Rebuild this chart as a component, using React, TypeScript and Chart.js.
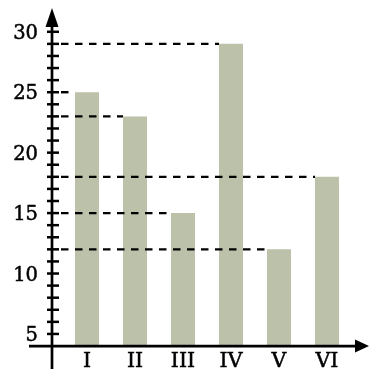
import { useEffect, useRef } from 'react';
import { Chart, registerables } from 'chart.js';

Chart.register(...registerables);

const categories = ['I', 'II', 'III', 'IV', 'V', 'VI'];
const values = [25, 23, 15, 29, 12, 18];
const yTickLabels = [5, 10, 15, 20, 25, 30];
const minorTickFrom = 5;
const minorTickTo = 30;
const baseValue = 4;
const yMin = 2.1;
const yMax = 32.63;

const BAR_COLOR = '#bcc1aa';
const Y_FONT = '19.5px "DejaVu Serif", serif';
const X_FONT = '20.5px "DejaVu Serif", serif';

const axesPlugin = {
  id: 'customAxes',
  afterDatasetsDraw(chart: any) {
    const ctx = chart.ctx as CanvasRenderingContext2D;
    const xs = chart.scales.x;
    const ys = chart.scales.y;
    const meta = chart.getDatasetMeta(0);
    const ax = xs.left - 11;
    const ay = ys.getPixelForValue(baseValue);
    ctx.save();
    ctx.strokeStyle = '#000';
    ctx.fillStyle = '#000';

    // dashed reference lines
    ctx.lineWidth = 2.4;
    ctx.setLineDash([7.5, 6.5]);
    values.forEach((v, i) => {
      const bar = meta.data[i];
      const py = ys.getPixelForValue(v);
      const left = bar.x - bar.width / 2;
      ctx.beginPath();
      ctx.moveTo(ax + 9, py);
      ctx.lineTo(left, py);
      ctx.stroke();
    });
    ctx.setLineDash([]);

    // axes
    ctx.lineWidth = 2.7;
    ctx.beginPath();
    ctx.moveTo(ax, chart.height);
    ctx.lineTo(ax, 22);
    ctx.stroke();
    ctx.beginPath();
    ctx.moveTo(29, ay);
    ctx.lineTo(360, ay);
    ctx.stroke();

    // arrows
    ctx.beginPath();
    ctx.moveTo(ax, 8);
    ctx.lineTo(ax - 6.5, 27);
    ctx.lineTo(ax + 6.5, 27);
    ctx.closePath();
    ctx.fill();
    ctx.beginPath();
    ctx.moveTo(369, ay);
    ctx.lineTo(355, ay - 6.5);
    ctx.lineTo(355, ay + 6.5);
    ctx.closePath();
    ctx.fill();

    // ticks
    ctx.lineWidth = 2.5;
    for (let v = minorTickFrom; v <= minorTickTo; v++) {
      const py = ys.getPixelForValue(v);
      ctx.beginPath();
      ctx.moveTo(ax - 5, py);
      ctx.lineTo(ax + 7, py);
      ctx.stroke();
    }

    // labels
    ctx.lineWidth = 0.5;
    ctx.font = Y_FONT;
    ctx.textAlign = 'right';
    ctx.textBaseline = 'alphabetic';
    yTickLabels.forEach((v) => {
      const py = ys.getPixelForValue(v);
      ctx.fillText(String(v), ax - 14, py + 7);
      ctx.strokeText(String(v), ax - 14, py + 7);
    });
    ctx.font = X_FONT;
    ctx.textAlign = 'center';
    categories.forEach((c, i) => {
      const bar = meta.data[i];
      ctx.fillText(c, bar.x, 366.5);
      ctx.strokeText(c, bar.x, 366.5);
    });
    ctx.restore();
  },
};

export default function App() {
  const ref = useRef<HTMLCanvasElement | null>(null);
  useEffect(() => {
    if (!ref.current) return;
    const chart = new Chart(ref.current, {
      type: 'bar',
      data: {
        labels: categories,
        datasets: [
          {
            data: values,
            base: baseValue,
            backgroundColor: BAR_COLOR,
            borderWidth: 0,
            categoryPercentage: 1,
            barPercentage: 0.5,
          } as any,
        ],
      },
      options: {
        responsive: false,
        animation: false,
        devicePixelRatio: 1,
        layout: { padding: { left: 63, right: 18, top: 0, bottom: 0 } },
        plugins: { legend: { display: false }, tooltip: { enabled: false } },
        scales: {
          x: { display: false, offset: true },
          y: { display: false, min: yMin, max: yMax },
        },
      },
      plugins: [axesPlugin],
    });
    return () => chart.destroy();
  }, []);
  return (
    <div style={{ position: 'fixed', left: 0, top: 0, width: 369, height: 369, background: '#fff' }}>
      <canvas ref={ref} width={369} height={369} />
    </div>
  );
}
